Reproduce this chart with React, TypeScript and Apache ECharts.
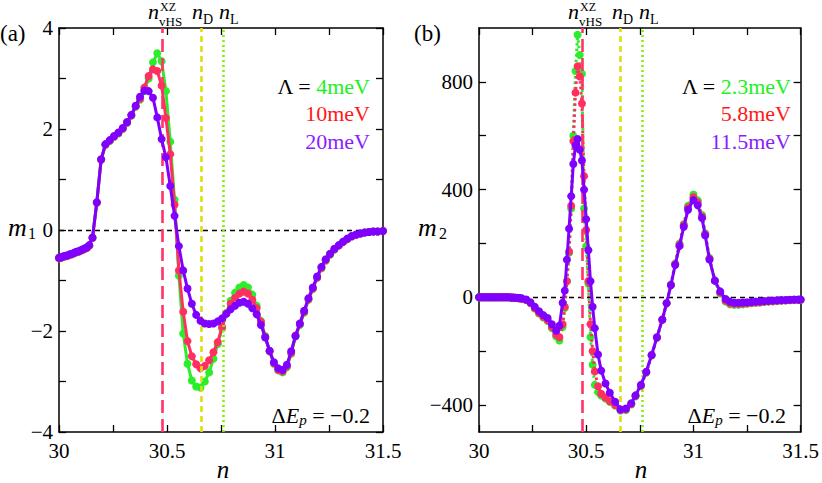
import React, { useEffect, useRef } from "react";
import * as echarts from "echarts";

// ---------- Data: panel (a), m1 ----------
const nA = [30.00,30.01,30.02,30.03,30.04,30.05,30.06,30.07,30.08,30.09,30.10,30.11,30.12,30.13,30.14,
  30.155,30.175,30.195,30.215,30.235,30.255,30.275,30.295,30.315,30.335,30.355,30.375,30.395,30.415,30.435,
  30.455,30.475,30.495,30.515,30.535,30.555,30.575,30.595,30.615,30.635,30.655,30.675,30.695,30.715,30.735,
  30.755,30.775,30.795,30.815,30.835,30.855,30.875,30.895,30.915,30.935,30.955,30.975,30.995,31.015,31.035,
  31.055,31.075,31.095,31.115,31.135,31.155,31.175,31.195,31.215,31.235,31.255,31.275,31.295,31.315,31.335,
  31.355,31.375,31.395,31.415,31.435,31.455,31.475,31.50];

const m1_4meV = [-0.56,-0.55,-0.53,-0.52,-0.51,-0.49,-0.48,-0.46,-0.44,-0.43,-0.41,-0.39,-0.37,-0.35,-0.31,
  -0.16,0.54,1.39,1.68,1.76,1.84,1.91,2.00,2.12,2.26,2.44,2.58,2.75,3.00,3.32,
  3.50,3.34,2.75,1.75,0.60,-0.90,-2.05,-2.65,-2.98,-3.10,-3.12,-3.00,-2.82,-2.55,-2.26,
  -1.95,-1.65,-1.40,-1.24,-1.14,-1.09,-1.14,-1.28,-1.50,-1.80,-2.10,-2.40,-2.65,-2.78,-2.82,
  -2.72,-2.45,-2.11,-1.88,-1.64,-1.38,-1.17,-0.95,-0.76,-0.61,-0.49,-0.39,-0.31,-0.24,-0.18,
  -0.13,-0.10,-0.07,-0.05,-0.04,-0.03,-0.03,-0.02];

const m1_10meV = [-0.56,-0.55,-0.53,-0.52,-0.51,-0.49,-0.48,-0.46,-0.44,-0.43,-0.41,-0.39,-0.37,-0.35,-0.31,
  -0.16,0.54,1.39,1.69,1.77,1.85,1.92,2.01,2.13,2.27,2.45,2.60,2.82,3.05,3.18,
  3.15,2.86,2.22,1.50,0.50,-0.80,-1.62,-2.20,-2.50,-2.66,-2.74,-2.69,-2.58,-2.42,-2.22,
  -1.92,-1.65,-1.46,-1.34,-1.26,-1.22,-1.26,-1.38,-1.55,-1.82,-2.12,-2.40,-2.64,-2.77,-2.80,
  -2.70,-2.43,-2.09,-1.86,-1.62,-1.37,-1.16,-0.94,-0.75,-0.60,-0.48,-0.38,-0.31,-0.24,-0.18,
  -0.13,-0.10,-0.07,-0.05,-0.04,-0.03,-0.03,-0.02];

const m1_20meV = [-0.55,-0.54,-0.52,-0.51,-0.50,-0.48,-0.47,-0.45,-0.43,-0.42,-0.40,-0.38,-0.36,-0.34,-0.30,
  -0.15,0.55,1.40,1.70,1.78,1.86,1.93,2.02,2.14,2.28,2.46,2.64,2.76,2.75,2.62,
  2.23,1.80,1.44,0.87,0.28,-0.32,-0.80,-1.16,-1.46,-1.68,-1.80,-1.85,-1.86,-1.85,-1.81,
  -1.75,-1.66,-1.57,-1.50,-1.44,-1.42,-1.46,-1.55,-1.67,-1.88,-2.13,-2.39,-2.62,-2.74,-2.77,
  -2.67,-2.40,-2.10,-1.85,-1.60,-1.35,-1.14,-0.92,-0.73,-0.58,-0.47,-0.37,-0.30,-0.23,-0.17,
  -0.12,-0.09,-0.07,-0.05,-0.04,-0.03,-0.03,-0.02];

// ---------- Data: panel (b), m2 ----------
const nB = [30.00,30.01,30.02,30.03,30.04,30.05,30.06,30.07,30.08,30.09,30.10,30.11,30.12,30.13,30.14,30.15,30.16,30.17,30.18,30.19,30.20,
  30.22,30.24,30.26,30.28,30.30,30.32,30.34,30.36,30.375,30.39,
  30.40,30.41,30.42,30.43,30.44,30.45,30.46,30.47,30.48,30.49,
  30.50,30.51,30.52,30.53,30.54,30.555,30.57,30.59,30.61,30.635,
  30.66,30.685,30.71,30.73,30.755,30.78,30.805,30.83,30.855,30.875,
  30.895,30.915,30.935,30.955,30.975,31.00,31.02,31.04,31.055,31.075,
  31.10,31.125,31.15,31.17,31.19,31.21,31.23,31.25,31.27,31.29,
  31.31,31.33,31.35,31.37,31.39,31.41,31.43,31.45,31.47,31.49,31.50];

const m2_2p3meV = [0,0,0,0,0,0,0,0,0,0,0,0,0,0,0,-1,-1,-2,-3,-4,-5,
  -10,-22,-42,-60,-75,-88,-115,-145,-160,-110,
  -40,60,165,330,600,840,975,900,830,330,
  190,50,-148,-250,-325,-352,-365,-376,-388,-402,
  -420,-418,-398,-368,-330,-280,-216,-150,-84,-22,
  48,126,200,272,340,382,360,306,238,146,
  62,14,-16,-26,-28,-28,-26,-24,-22,-20,
  -19,-17,-16,-15,-14,-13,-12,-11,-10,-10,-10];

const m2_5p8meV = [0,0,0,0,0,0,0,0,0,0,0,0,0,0,0,-1,-1,-2,-3,-4,-5,
  -10,-21,-40,-58,-72,-85,-110,-138,-148,-100,
  -35,60,170,340,580,760,858,820,720,450,
  250,60,-100,-200,-275,-330,-358,-372,-386,-400,
  -418,-416,-396,-366,-328,-278,-215,-149,-83,-22,
  46,123,195,268,333,372,352,300,234,143,
  62,18,-12,-22,-24,-24,-23,-22,-20,-19,
  -18,-16,-15,-14,-13,-12,-11,-10,-10,-9,-9];

const m2_11p5meV = [0,0,0,0,0,0,0,0,0,0,0,0,0,0,0,-1,-1,-2,-2,-3,-4,
  -8,-18,-35,-52,-66,-77,-100,-124,-105,-20,
  25,140,255,375,495,565,588,548,508,400,
  290,175,60,-35,-115,-212,-272,-320,-354,-388,
  -416,-413,-393,-364,-325,-276,-214,-148,-82,-22,
  45,120,190,262,325,361,342,294,230,140,
  62,22,-6,-16,-20,-20,-19,-18,-17,-16,
  -15,-14,-13,-12,-11,-10,-10,-9,-8,-8,-8];

// ---------- Reference lines & ticks ----------
const nVHS = 30.478;
const nD = 30.658;
const nL = 30.757;
const xTickLabels = [30, 30.5, 31, 31.5];
const yTickLabelsA = [-4, -2, 0, 2, 4];
const yTicksB = [-400, -200, 0, 200, 400, 600, 800];
const yTickLabelsB = [-400, 0, 400, 800];
const legendA = ["4meV", "10meV", "20meV"];
const legendB = ["2.3meV", "5.8meV", "11.5meV"];

const GREEN = "#2bee2b";
const RED = "#ff3060";
const PURPLE = "#8000ff";
const TXT_GREEN = "#1ef01e";
const TXT_RED = "#ff1818";
const TXT_PURPLE = "#8a1dff";
const FONT = "'Liberation Serif', 'Times New Roman', Times, serif";
const TICK_FS = 21;

const fmtNum = (v: number) => (v < 0 ? "\u2212" + String(-v) : String(v));

const pairs = (xs: number[], ys: number[]) => xs.map((x, i) => [x, ys[i]]);

function xAxes(grid: number) {
  const common = {
    gridIndex: grid,
    type: "value",
    min: 30,
    max: 31.5,
    interval: 0.25,
    splitLine: { show: false },
    axisLine: { show: true, onZero: false, lineStyle: { color: "#000", width: 1.5 } },
    axisTick: { show: true, inside: true, length: 7, lineStyle: { color: "#000", width: 1.3 } },
  };
  return [
    {
      ...common,
      position: "bottom",
      axisLabel: {
        show: true,
        margin: 8,
        color: "#000",
        fontFamily: FONT,
        fontSize: TICK_FS,
        formatter: (v: number) =>
          xTickLabels.some((t) => Math.abs(t - v) < 1e-6) ? String(+v.toFixed(2)) : "",
      },
    },
    { ...common, position: "top", axisLabel: { show: false } },
  ];
}

function yAxesA(grid: number) {
  const common = {
    gridIndex: grid,
    type: "value",
    min: -4,
    max: 4,
    interval: 1,
    splitLine: { show: false },
    axisLine: { show: true, onZero: false, lineStyle: { color: "#000", width: 1.5 } },
    axisTick: { show: true, inside: true, length: 7, lineStyle: { color: "#000", width: 1.3 } },
  };
  return [
    {
      ...common,
      position: "left",
      axisLabel: {
        show: true,
        margin: 6,
        color: "#000",
        fontFamily: FONT,
        fontSize: TICK_FS,
        formatter: (v: number) => (yTickLabelsA.includes(v) ? fmtNum(v) : ""),
      },
    },
    { ...common, position: "right", axisLabel: { show: false } },
  ];
}

function yAxesB(grid: number) {
  const common = {
    gridIndex: grid,
    type: "value",
    min: -500,
    max: 1000,
    splitLine: { show: false },
    axisLine: { show: true, onZero: false, lineStyle: { color: "#000", width: 1.5 } },
    axisTick: {
      show: true,
      inside: true,
      length: 7,
      customValues: yTicksB,
      lineStyle: { color: "#000", width: 1.3 },
    },
  };
  return [
    {
      ...common,
      position: "left",
      axisLabel: {
        show: true,
        margin: 6,
        color: "#000",
        fontFamily: FONT,
        fontSize: TICK_FS,
        customValues: yTickLabelsB,
        formatter: (v: number) => fmtNum(v),
      },
    },
    { ...common, position: "right", axisLabel: { show: false } },
  ];
}

function zeroLine(xi: number, yi: number) {
  return {
    type: "line",
    xAxisIndex: xi,
    yAxisIndex: yi,
    data: [],
    silent: true,
    z: 1,
    markLine: {
      silent: true,
      symbol: ["none", "none"],
      label: { show: false },
      emphasis: { disabled: true },
      data: [{ yAxis: 0, lineStyle: { color: "#000", width: 1.3, type: [5, 4] } }],
    },
  };
}

function refLines(xi: number, yi: number) {
  return {
    type: "line",
    xAxisIndex: xi,
    yAxisIndex: yi,
    data: [],
    silent: true,
    z: 10,
    markLine: {
      silent: true,
      symbol: ["none", "none"],
      label: { show: false },
      emphasis: { disabled: true },
      data: [
        { xAxis: nVHS, lineStyle: { color: "#ff3366", width: 2.6, type: [13, 6] } },
        { xAxis: nD, lineStyle: { color: "#dede10", width: 2.6, type: [6, 4] } },
        { xAxis: nL, lineStyle: { color: "#88ee11", width: 2.6, type: [2, 3] } },
      ],
    },
  };
}

function dataSeries(xi: number, yi: number, xs: number[], ys: number[], color: string, dotted: boolean, z: number) {
  return {
    type: "line",
    xAxisIndex: xi,
    yAxisIndex: yi,
    data: pairs(xs, ys),
    symbol: "circle",
    symbolSize: 8,
    showSymbol: true,
    z,
    itemStyle: { color },
    lineStyle: { color, width: 3, type: dotted ? [2.5, 3] : "solid" },
    emphasis: { disabled: true },
    silent: true,
  };
}

function txt(x: number, y: number, text: string, opts: any = {}) {
  return {
    type: "text",
    x,
    y,
    silent: true,
    style: {
      text,
      fill: opts.fill || "#000",
      fontFamily: FONT,
      fontSize: opts.fontSize || 20,
      fontStyle: opts.italic ? "italic" : "normal",
      align: opts.align || "left",
      verticalAlign: "middle",
      rich: opts.rich,
    },
  };
}

function topLabels(dx: number) {
  return [
    txt(148 + dx, 11, "n", { italic: true, fontSize: 22 }),
    txt(159 + dx, 21, "vHS", { fontSize: 13 }),
    txt(160 + dx, 6.5, "XZ", { fontSize: 12 }),
    txt(192 + dx, 11, "n", { italic: true, fontSize: 22 }),
    txt(203 + dx, 19, "D", { fontSize: 14 }),
    txt(219 + dx, 11, "n", { italic: true, fontSize: 22 }),
    txt(230 + dx, 19, "L", { fontSize: 14 }),
  ];
}

function legend(xRight: number, labels: string[]) {
  const rich = {
    k: { fill: "#000", fontFamily: FONT, fontSize: 22 },
    g: { fill: TXT_GREEN, fontFamily: FONT, fontSize: 22 },
  };
  return [
    txt(xRight, 86, "{k|\u039B = }{g|" + labels[0] + "}", { align: "right", rich, fontSize: 22 }),
    txt(xRight, 113, labels[1], { align: "right", fill: TXT_RED, fontSize: 22 }),
    txt(xRight, 141, labels[2], { align: "right", fill: TXT_PURPLE, fontSize: 22 }),
  ];
}

function deltaE(xRight: number) {
  const rich = {
    r: { fontFamily: FONT, fontSize: 22, fill: "#000", lineHeight: 24 },
    i: { fontFamily: FONT, fontSize: 22, fontStyle: "italic", fill: "#000", lineHeight: 24 },
    s: { fontFamily: FONT, fontSize: 15, fontStyle: "italic", fill: "#000", lineHeight: 14, padding: [10, 0, 0, 0] },
  };
  return txt(xRight, 415, "{r|\u0394}{i|E}{s|p}{r| = \u22120.2}", { align: "right", rich });
}

export default function App() {
  const ref = useRef<HTMLDivElement>(null);
  useEffect(() => {
    document.body.style.margin = "0";
    const chart = echarts.init(ref.current!, null, { renderer: "svg" });
    const option: any = {
      animation: false,
      backgroundColor: "#fff",
      grid: [
        { left: 59, top: 28, width: 324, height: 404 },
        { left: 479, top: 28, width: 324, height: 404 },
      ],
      xAxis: [...xAxes(0), ...xAxes(1)],
      yAxis: [...yAxesA(0), ...yAxesB(1)],
      series: [
        zeroLine(0, 0),
        dataSeries(0, 0, nA, m1_4meV, GREEN, false, 3),
        dataSeries(0, 0, nA, m1_10meV, RED, false, 4),
        dataSeries(0, 0, nA, m1_20meV, PURPLE, false, 5),
        refLines(0, 0),
        zeroLine(2, 2),
        dataSeries(2, 2, nB, m2_2p3meV, GREEN, true, 3),
        dataSeries(2, 2, nB, m2_5p8meV, RED, true, 4),
        dataSeries(2, 2, nB, m2_11p5meV, PURPLE, false, 5),
        refLines(2, 2),
      ],
      graphic: [
        txt(0, 33, "(a)", { fontSize: 23 }),
        txt(414, 33, "(b)", { fontSize: 23 }),
        txt(8, 227, "m", { italic: true, fontSize: 26 }),
        txt(28, 233, "1", { fontSize: 16 }),
        txt(418, 227, "m", { italic: true, fontSize: 26 }),
        txt(439, 233, "2", { fontSize: 16 }),
        txt(223, 469, "n", { italic: true, fontSize: 25, align: "center" }),
        txt(641, 469, "n", { italic: true, fontSize: 25, align: "center" }),
        ...topLabels(0),
        ...topLabels(420),
        ...legend(370, legendA),
        ...legend(791, legendB),
        deltaE(370),
        deltaE(786),
      ],
    };
    chart.setOption(option);
    return () => chart.dispose();
  }, []);
  return <div ref={ref} style={{ width: 822, height: 483 }} />;
}
